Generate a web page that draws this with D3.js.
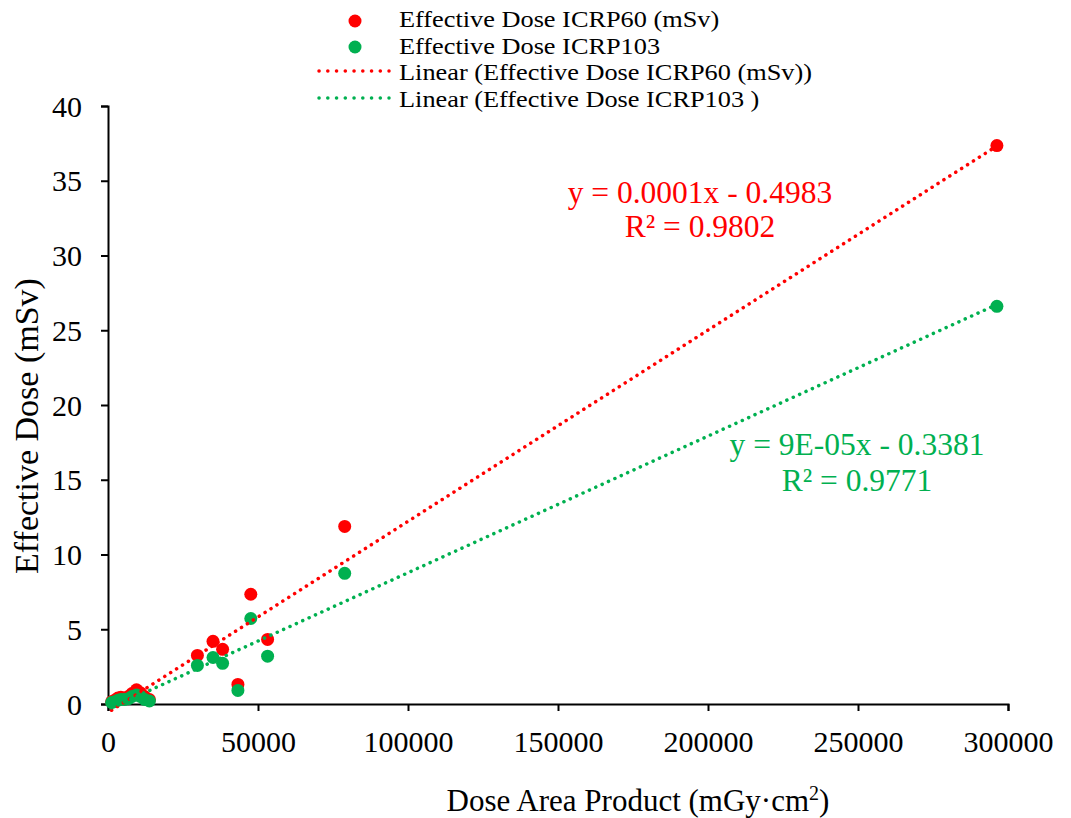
<!DOCTYPE html>
<html>
<head>
<meta charset="utf-8">
<script src="https://cdn.jsdelivr.net/npm/d3@7"></script>
<style>
  body { margin: 0; background: #fff; }
  svg text { font-family: "Liberation Serif", "Times New Roman", serif; }
</style>
</head>
<body>
<div id="chart"></div>
<script>
// dose area product (mGy·cm2) for each exam
var dap = [1200, 2200, 3300, 4300, 5500, 6800, 8000, 9500, 10800, 12200, 13800,
    29800, 35000, 38200, 43300, 47600, 53200, 78900, 296300];
// effective dose, ICRP60 (mSv)
var doseIcrp60 = [0.15, 0.25, 0.4, 0.45, 0.4, 0.5, 0.7, 0.95, 0.75, 0.5, 0.3,
    3.25, 4.19, 3.66, 1.31, 7.34, 4.32, 11.88, 37.35];
// effective dose, ICRP103 (mSv)
var doseIcrp103 = [0.1, 0.15, 0.25, 0.3, 0.3, 0.35, 0.5, 0.6, 0.5, 0.3, 0.2,
    2.58, 3.11, 2.72, 0.91, 5.72, 3.2, 8.74, 26.6];

var xTicks = [0, 50000, 100000, 150000, 200000, 250000, 300000];
var yTicks = [0, 5, 10, 15, 20, 25, 30, 35, 40];

var seriesNames = ["Effective Dose ICRP60 (mSv)", "Effective Dose ICRP103"];
var trendNames = ["Linear (Effective Dose ICRP60 (mSv))", "Linear (Effective Dose ICRP103 )"];
var equations = [["y = 0.0001x - 0.4983", "R² = 0.9802"], ["y = 9E-05x - 0.3381", "R² = 0.9771"]];
var colors = ["#ff0000", "#00b050"];

var margin = { top: 106, right: 63, bottom: 114, left: 108 },
    width = 1071 - margin.left - margin.right,
    height = 818 - margin.top - margin.bottom;

var svg = d3.select("#chart").append("svg")
    .attr("width", 1071)
    .attr("height", 818);

var g = svg.append("g")
    .attr("transform", "translate(" + margin.left + "," + margin.top + ")");

var x = d3.scaleLinear().domain([0, 300000]).range([0, width]);
var y = d3.scaleLinear().domain([0, 40]).range([height, 0]);

// least squares fit for the trendlines
function fit(xs, ys) {
    var mx = d3.mean(xs), my = d3.mean(ys);
    var sxy = d3.sum(xs, function (v, i) { return (v - mx) * (ys[i] - my); });
    var sxx = d3.sum(xs, function (v) { return (v - mx) * (v - mx); });
    var slope = sxy / sxx;
    return { slope: slope, intercept: my - slope * mx };
}

var series = [doseIcrp60, doseIcrp103].map(function (vals, i) {
    return {
        name: seriesNames[i],
        color: colors[i],
        points: dap.map(function (d, j) { return { x: d, y: vals[j] }; }),
        trend: fit(dap, vals)
    };
});

// axes
var xAxis = g.append("g")
    .attr("transform", "translate(0," + height + ")")
    .call(d3.axisBottom(x).tickValues(xTicks).tickSize(7).tickPadding(21).tickFormat(d3.format("d")));
var yAxis = g.append("g")
    .call(d3.axisLeft(y).tickValues(yTicks).tickSize(7).tickPadding(19));

[xAxis, yAxis].forEach(function (ax) {
    ax.select(".domain").attr("stroke", "#000").attr("stroke-width", 2);
    ax.selectAll(".tick line").attr("stroke", "#000").attr("stroke-width", 2);
    ax.selectAll(".tick text")
        .attr("fill", "#000")
        .style("font-family", '"Liberation Serif", serif')
        .style("font-size", "30px");
});
xAxis.selectAll(".tick text").attr("dy", "0.68em");
yAxis.selectAll(".tick text").attr("dy", "0.34em");

// points
series.forEach(function (s) {
    g.append("g").selectAll("circle")
        .data(s.points)
        .enter().append("circle")
        .attr("cx", function (d) { return x(d.x); })
        .attr("cy", function (d) { return y(d.y); })
        .attr("r", 6.5)
        .attr("fill", s.color);
});

// dotted trendlines
var xExtent = d3.extent(dap);
series.forEach(function (s) {
    g.append("line")
        .attr("x1", x(xExtent[0]))
        .attr("y1", y(s.trend.intercept + s.trend.slope * xExtent[0]))
        .attr("x2", x(xExtent[1]))
        .attr("y2", y(s.trend.intercept + s.trend.slope * xExtent[1]))
        .attr("stroke", s.color)
        .attr("stroke-width", 3.5)
        .attr("stroke-linecap", "round")
        .attr("stroke-dasharray", "0.1 6.9");
});

// trendline equations
var eqPos = [[700, 203, 237], [857, 455, 491]];
equations.forEach(function (eq, i) {
    eq.forEach(function (line, k) {
        svg.append("text").attr("x", eqPos[i][0]).attr("y", eqPos[i][k + 1])
            .attr("text-anchor", "middle").attr("fill", colors[i])
            .style("font-size", "31.5px").text(line);
    });
});

// axis titles
svg.append("text")
    .attr("transform", "translate(38,426) rotate(-90)")
    .attr("text-anchor", "middle")
    .style("font-size", "34px")
    .text("Effective Dose (mSv)");

var xTitle = svg.append("text")
    .attr("x", 638).attr("y", 811)
    .attr("text-anchor", "middle")
    .style("font-size", "31px");
xTitle.append("tspan").text("Dose Area Product (mGy·cm");
xTitle.append("tspan").attr("dy", -11).style("font-size", "20px").text("2");
xTitle.append("tspan").attr("dy", 11).text(")");

// legend
var legend = svg.append("g");
series.forEach(function (s, i) {
    var yy = 21 + i * 26;
    legend.append("circle").attr("cx", 355).attr("cy", yy).attr("r", 6.5).attr("fill", s.color);
    legend.append("text")
        .attr("transform", "translate(399," + (27 + i * 26.5) + ") scale(1.17,1)")
        .style("font-size", "22.5px").text(s.name);
});
trendNames.forEach(function (name, i) {
    var yy = 71 + i * 27;
    legend.append("line")
        .attr("x1", 319).attr("x2", 389).attr("y1", yy).attr("y2", yy)
        .attr("stroke", colors[i]).attr("stroke-width", 3.5)
        .attr("stroke-linecap", "round").attr("stroke-dasharray", "0.1 8.65");
    legend.append("text")
        .attr("transform", "translate(399," + (80 + i * 26.5) + ") scale(1.17,1)")
        .style("font-size", "22.5px").text(name);
});
</script>
</body>
</html>
